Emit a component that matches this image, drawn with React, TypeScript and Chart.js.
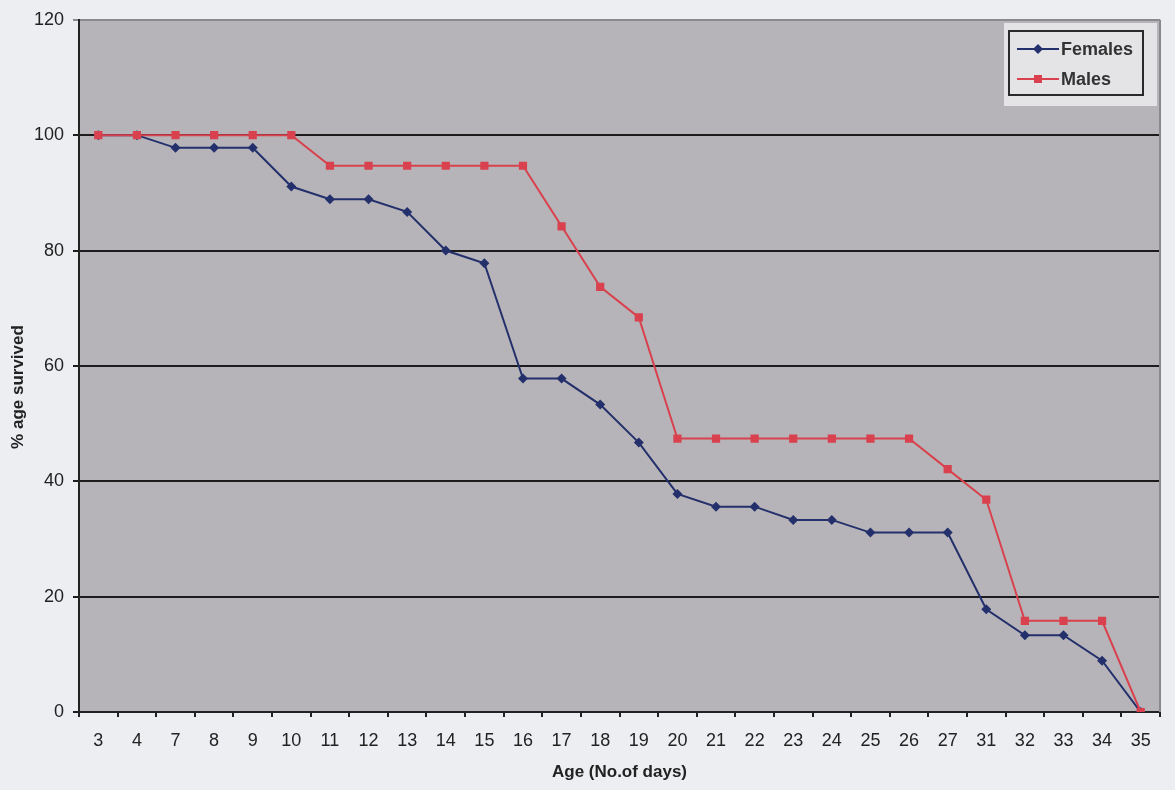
import { useEffect, useRef } from 'react';
import { Chart, registerables } from 'chart.js';

Chart.register(...registerables);

// Age of the flies in days (category axis)
const ages = ['3', '4', '7', '8', '9', '10', '11', '12', '13', '14', '15', '16', '17', '18', '19', '20', '21', '22', '23', '24', '25', '26', '27', '31', '32', '33', '34', '35'];

// Percentage of each sex still alive at that age
const females = [100, 100, 97.8, 97.8, 97.8, 91.1, 88.9, 88.9, 86.7, 80, 77.8, 57.8, 57.8, 53.3, 46.7, 37.8, 35.6, 35.6, 33.3, 33.3, 31.1, 31.1, 31.1, 17.8, 13.3, 13.3, 8.9, 0];
const males = [100, 100, 100, 100, 100, 100, 94.7, 94.7, 94.7, 94.7, 94.7, 94.7, 84.2, 73.7, 68.4, 47.4, 47.4, 47.4, 47.4, 47.4, 47.4, 47.4, 42.1, 36.8, 15.8, 15.8, 15.8, 0];

const seriesNames = ['Females', 'Males'];
const yMin = 0;
const yMax = 120;
const yStep = 20;

const xTitle = 'Age (No.of days)';
const yTitle = '% age survived';

const PAGE_BG = '#eceef1';
const PLOT_BG = '#b6b4b8';
const FEMALE_COLOR = '#24306c';
const MALE_COLOR = '#d8414d';
const INK = '#222222';
const FONT = "Arial, 'Liberation Sans', sans-serif";

export default function App() {
  const ref = useRef<HTMLCanvasElement>(null);

  useEffect(() => {
    if (!ref.current) return;

    const frame = {
      id: 'frame',
      beforeDraw(chart: any) {
        const { ctx, chartArea } = chart;
        const { left, top, right, bottom } = chartArea;
        ctx.save();
        ctx.fillStyle = PAGE_BG;
        ctx.fillRect(0, 0, chart.width, chart.height);
        ctx.fillStyle = PLOT_BG;
        ctx.fillRect(left, top, right - left, bottom - top);
        ctx.restore();
      },
      afterDraw(chart: any) {
        const { ctx, chartArea } = chart;
        const { top, right, bottom } = chartArea;
        ctx.save();
        // right edge of the plot frame
        ctx.strokeStyle = '#8a898d';
        ctx.lineWidth = 2;
        ctx.beginPath();
        ctx.moveTo(right, top);
        ctx.lineTo(right, bottom);
        ctx.stroke();

        // vertical axis title
        ctx.translate(18, 387);
        ctx.rotate(-Math.PI / 2);
        ctx.fillStyle = INK;
        ctx.font = `bold 17px ${FONT}`;
        ctx.textAlign = 'center';
        ctx.textBaseline = 'middle';
        ctx.fillText(yTitle, 0, 0);
        ctx.restore();

        // legend box
        ctx.save();
        ctx.fillStyle = '#e4e4e7';
        ctx.fillRect(1004, 23, 153, 83);
        ctx.strokeStyle = '#2a2a2a';
        ctx.lineWidth = 2;
        ctx.strokeRect(1009, 31, 134, 64);
        const rows = [
          { y: 49, color: FEMALE_COLOR, shape: 'diamond' },
          { y: 79, color: MALE_COLOR, shape: 'square' },
        ];
        chart.data.datasets.forEach((ds: any, i: number) => {
          const r = rows[i];
          ctx.strokeStyle = r.color;
          ctx.lineWidth = 2;
          ctx.beginPath();
          ctx.moveTo(1017, r.y);
          ctx.lineTo(1059, r.y);
          ctx.stroke();
          ctx.fillStyle = r.color;
          ctx.beginPath();
          if (r.shape === 'diamond') {
            ctx.moveTo(1038, r.y - 5);
            ctx.lineTo(1043, r.y);
            ctx.lineTo(1038, r.y + 5);
            ctx.lineTo(1033, r.y);
            ctx.closePath();
          } else {
            ctx.rect(1034, r.y - 4, 8, 8);
          }
          ctx.fill();
          ctx.fillStyle = '#333';
          ctx.font = `bold 18px ${FONT}`;
          ctx.textAlign = 'left';
          ctx.textBaseline = 'middle';
          ctx.fillText(ds.label, 1061, r.y + 1);
        });
        ctx.restore();
      },
    };

    const chart = new Chart(ref.current, {
      type: 'line',
      data: {
        labels: ages,
        datasets: [
          {
            label: seriesNames[0],
            data: females,
            borderColor: FEMALE_COLOR,
            backgroundColor: FEMALE_COLOR,
            borderWidth: 2,
            pointStyle: 'rectRot',
            pointRadius: 5,
            pointBorderWidth: 0,
            tension: 0,
            order: 1,
          },
          {
            label: seriesNames[1],
            data: males,
            borderColor: MALE_COLOR,
            backgroundColor: MALE_COLOR,
            borderWidth: 2,
            pointStyle: 'rect',
            pointRadius: 5.8,
            pointBorderWidth: 0,
            tension: 0,
            order: 0,
          },
        ],
      },
      options: {
        responsive: false,
        animation: false,
        layout: { padding: { left: 0, top: 18, right: 15, bottom: 0 } },
        plugins: {
          legend: { display: false },
          tooltip: { enabled: false },
        },
        scales: {
          x: {
            type: 'category',
            offset: true,
            afterFit: (scale: any) => {
              scale.height = 78;
            },
            grid: {
              offset: true,
              drawOnChartArea: false,
              color: INK,
              lineWidth: 2,
              tickLength: 5,
            },
            border: { display: true, color: INK, width: 2 },
            ticks: {
              color: INK,
              font: { size: 18, family: FONT },
              padding: 13,
              autoSkip: false,
              maxRotation: 0,
            },
            title: {
              display: true,
              text: xTitle,
              color: INK,
              font: { size: 17, weight: 'bold', family: FONT },
              padding: { top: 0, bottom: 7 },
            },
          },
          y: {
            min: yMin,
            max: yMax,
            afterFit: (scale: any) => {
              scale.width = 79;
            },
            grid: {
              color: (c: any) => (c.tick && c.tick.value === yMax ? '#8a898d' : '#1c1c1c'),
              lineWidth: 2,
              tickLength: 6,
            },
            border: { display: true, color: INK, width: 2 },
            ticks: {
              stepSize: yStep,
              color: INK,
              font: { size: 18, family: FONT },
              padding: 9,
            },
          },
        },
      },
      plugins: [frame],
    });

    return () => chart.destroy();
  }, []);

  return (
    <div style={{ position: 'fixed', left: 0, top: 0, width: 1175, height: 790, background: PAGE_BG }}>
      <canvas ref={ref} width={1175} height={790} style={{ display: 'block' }} />
    </div>
  );
}
